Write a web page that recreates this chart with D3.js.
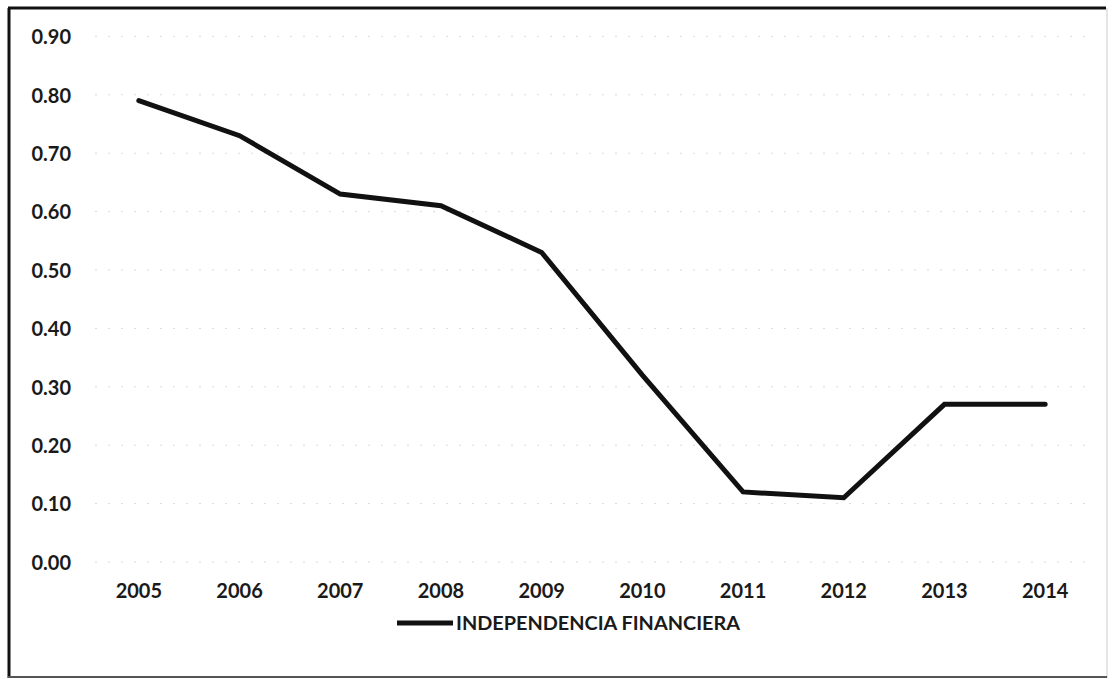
<!DOCTYPE html>
<html>
<head>
<meta charset="utf-8">
<script src="https://cdn.jsdelivr.net/npm/d3@7"></script>
<style>
  html, body { margin: 0; padding: 0; background: #fff; }
  svg { display: block; }
  text { font-family: Lato, "Open Sans", sans-serif; fill: #1a1a1a; }
</style>
</head>
<body>
<svg id="chart" width="1118" height="679"></svg>
<script>
// Independencia financiera por año
const years = ["2005", "2006", "2007", "2008", "2009", "2010", "2011", "2012", "2013", "2014"];
const values = [0.79, 0.73, 0.63, 0.61, 0.53, 0.32, 0.12, 0.11, 0.27, 0.27];
const yTicks = [0, 0.1, 0.2, 0.3, 0.4, 0.5, 0.6, 0.7, 0.8, 0.9];
const seriesName = "INDEPENDENCIA FINANCIERA";

const svg = d3.select("#chart");
const W = 1118, H = 679;

// frame
svg.append("rect").attr("x", 0).attr("y", 0).attr("width", W).attr("height", H).attr("fill", "#fff");
svg.append("line").attr("x1", 9).attr("x2", 9).attr("y1", 8).attr("y2", 678)
  .attr("stroke", "#111").attr("stroke-width", 3);
svg.append("line").attr("x1", 8).attr("x2", 1106).attr("y1", 8).attr("y2", 8)
  .attr("stroke", "#111").attr("stroke-width", 3);
svg.append("line").attr("x1", 1107).attr("x2", 1107).attr("y1", 8).attr("y2", 678)
  .attr("stroke", "#dcdcdc").attr("stroke-width", 1.5);
svg.append("line").attr("x1", 8).attr("x2", 1107).attr("y1", 677).attr("y2", 677)
  .attr("stroke", "#555").attr("stroke-width", 2);

const x = d3.scaleBand().domain(years).range([88.5, 1095.5]);
const y = d3.scaleLinear().domain([0, 0.9]).range([562, 36.4]);

// gridlines (faint, broken)
const grid = svg.append("g");
grid.selectAll("line").data(yTicks).join("line")
  .attr("x1", 95).attr("x2", 1092)
  .attr("y1", d => y(d)).attr("y2", d => y(d))
  .attr("stroke", "#d9d9d9").attr("stroke-width", 1)
  .attr("stroke-dasharray", "2 11");

// y axis labels
const yAxis = d3.axisLeft(y).tickValues(yTicks).tickFormat(d3.format(".2f")).tickSize(0).tickPadding(0);
const gy = svg.append("g").attr("transform", "translate(71,0)").call(yAxis);
gy.select(".domain").remove();
gy.selectAll("text").style("font-size", "20px").style("font-weight", "700")
  .attr("font-family", "Lato, sans-serif").attr("fill", "#1a1a1a").attr("dy", "0.36em");

// x axis labels
const xAxis = d3.axisBottom(x).tickSize(0).tickPadding(0);
const gx = svg.append("g").attr("transform", "translate(0,591)").call(xAxis);
gx.select(".domain").remove();
gx.selectAll("text").style("font-size", "20px").style("font-weight", "700")
  .attr("font-family", "Lato, sans-serif").attr("fill", "#1a1a1a").attr("dy", "0.36em");

// series line
const line = d3.line()
  .x((d, i) => x(years[i]) + x.bandwidth() / 2)
  .y(d => y(d));
svg.append("path").datum(values)
  .attr("d", line)
  .attr("fill", "none")
  .attr("stroke", "#111")
  .attr("stroke-width", 5)
  .attr("stroke-linejoin", "miter")
  .attr("stroke-linecap", "round");

// legend
const lg = svg.append("g").attr("transform", "translate(397,623)");
lg.append("line").attr("x1", 0).attr("x2", 56).attr("y1", 0).attr("y2", 0)
  .attr("stroke", "#111").attr("stroke-width", 5);
lg.append("text").attr("x", 59).attr("y", 0).attr("dy", "0.36em")
  .style("font-size", "19px").style("font-weight", "700")
  .attr("textLength", 284).attr("lengthAdjust", "spacingAndGlyphs")
  .text(seriesName);
</script>
</body>
</html>
